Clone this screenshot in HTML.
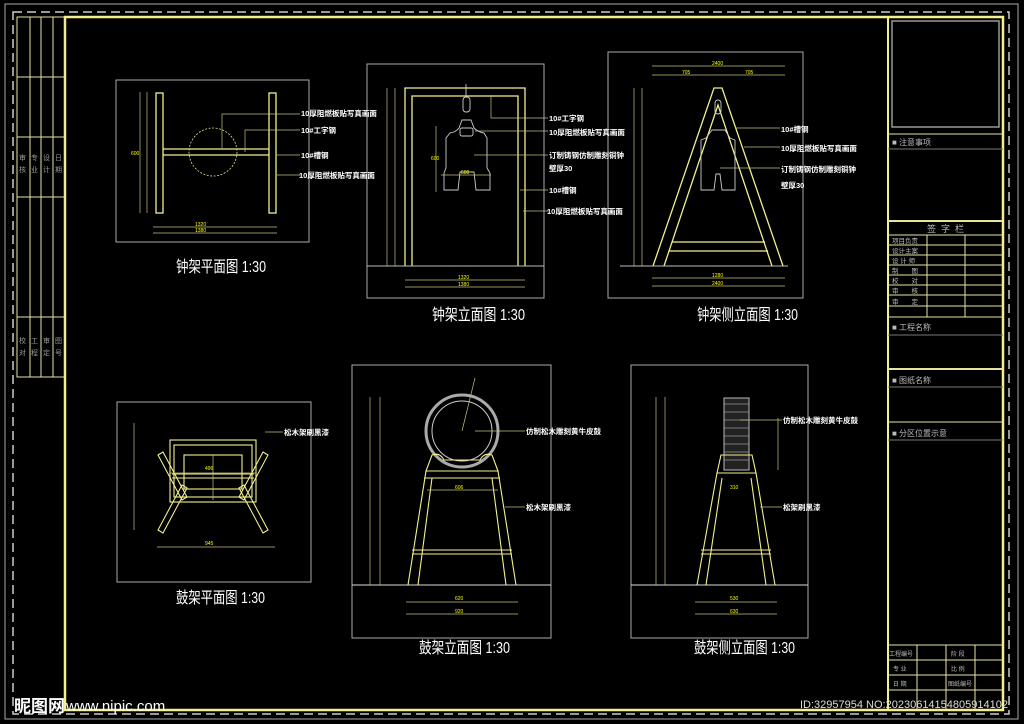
<!DOCTYPE html>
<html><head><meta charset="utf-8"><style>
html,body{margin:0;padding:0;background:#000;}
svg{display:block}
text{font-family:"Liberation Sans","Noto Sans CJK SC",sans-serif;}
</style></head><body>
<svg width="1024" height="724" viewBox="0 0 1024 724" xmlns="http://www.w3.org/2000/svg">
<rect width="1024" height="724" fill="#000"/>
<rect x="5" y="4" width="1013" height="715" fill="none" stroke="#aaa" stroke-width="1"/>
<rect x="13" y="12" width="996" height="702" fill="none" stroke="#ccc" stroke-width="1.5" stroke-dasharray="9,5"/>
<rect x="65" y="17" width="938" height="693" fill="none" stroke="#f4f08c" stroke-width="2.5"/>
<line x1="888" y1="17" x2="888" y2="710" stroke="#f4f08c" stroke-width="2"/>
<g stroke="#e8e4a0" stroke-width="1" fill="none">
<rect x="17" y="17" width="48" height="360"/>
<line x1="30" y1="17" x2="30" y2="377"/><line x1="41" y1="17" x2="41" y2="377"/><line x1="53" y1="17" x2="53" y2="377"/>
<line x1="17" y1="77" x2="65" y2="77"/><line x1="17" y1="137" x2="65" y2="137"/><line x1="17" y1="197" x2="65" y2="197"/><line x1="17" y1="317" x2="65" y2="317"/>
</g>
<g fill="#999" font-size="7">
<text x="19" y="160">审</text><text x="31" y="160">专</text><text x="43" y="160">设</text><text x="55" y="160">日</text>
<text x="19" y="172">核</text><text x="31" y="172">业</text><text x="43" y="172">计</text><text x="55" y="172">期</text>
<text x="19" y="343">校</text><text x="31" y="343">工</text><text x="43" y="343">审</text><text x="55" y="343">图</text>
<text x="19" y="355">对</text><text x="31" y="355">程</text><text x="43" y="355">定</text><text x="55" y="355">号</text>
</g>
<g stroke="#e8e4a0" stroke-width="1" fill="none">
<rect x="892" y="21" width="107" height="106" stroke="#999" stroke-width="1.5"/>
<line x1="888" y1="134" x2="1003" y2="134"/><line x1="888" y1="149" x2="1003" y2="149" stroke="#777"/>
<line x1="888" y1="221" x2="1003" y2="221" stroke-width="2"/>
<line x1="888" y1="235" x2="1003" y2="235"/><line x1="888" y1="245" x2="1003" y2="245"/><line x1="888" y1="255" x2="1003" y2="255"/>
<line x1="888" y1="265" x2="1003" y2="265"/><line x1="888" y1="275" x2="1003" y2="275"/><line x1="888" y1="285" x2="1003" y2="285"/>
<line x1="888" y1="295" x2="1003" y2="295"/><line x1="888" y1="306" x2="1003" y2="306"/><line x1="888" y1="317" x2="1003" y2="317"/>
<line x1="927" y1="235" x2="927" y2="317"/><line x1="965" y1="235" x2="965" y2="317"/>
<line x1="888" y1="335" x2="1003" y2="335" stroke="#777"/>
<line x1="888" y1="369" x2="1003" y2="369" stroke-width="2"/><line x1="888" y1="387" x2="1003" y2="387" stroke="#777"/>
<line x1="888" y1="422" x2="1003" y2="422"/><line x1="888" y1="440" x2="1003" y2="440" stroke="#777"/>
<line x1="888" y1="645" x2="1003" y2="645"/><line x1="888" y1="660" x2="1003" y2="660"/><line x1="888" y1="675" x2="1003" y2="675"/><line x1="888" y1="690" x2="1003" y2="690"/>
<line x1="917" y1="645" x2="917" y2="710"/><line x1="946" y1="645" x2="946" y2="710"/><line x1="975" y1="645" x2="975" y2="710"/>
</g>
<g fill="#bbb" font-size="8">
<text x="892" y="145">■ 注意事项</text>
<text x="927" y="232" font-size="9" letter-spacing="5">签字栏</text>
<text x="892" y="243" font-size="6.5">项目负责</text><text x="892" y="253" font-size="6.5">设计主案</text><text x="892" y="263" font-size="6.5">设 计 师</text>
<text x="892" y="273" font-size="6.5">制　　图</text><text x="892" y="283" font-size="6.5">校　　对</text><text x="892" y="293" font-size="6.5">审　　核</text><text x="892" y="304" font-size="6.5">审　　定</text>
<text x="892" y="330">■ 工程名称</text><text x="892" y="383">■ 图纸名称</text><text x="892" y="436">■ 分区位置示意</text>
<text x="889" y="656" font-size="6">工程编号</text><text x="951" y="656" font-size="6">阶 段</text>
<text x="893" y="671" font-size="6">专 业</text><text x="951" y="671" font-size="6">比 例</text>
<text x="893" y="686" font-size="6">日 期</text><text x="948" y="686" font-size="6">图纸编号</text>
</g>
<g stroke="#aaa" stroke-width="1" fill="none">
<rect x="116" y="80" width="193" height="162"/>
<rect x="367" y="64" width="177" height="234"/>
<rect x="608" y="52" width="195" height="246"/>
<rect x="117" y="402" width="194" height="180"/>
<rect x="352" y="365" width="199" height="273"/>
<rect x="631" y="365" width="177" height="273"/>
</g>
<g stroke="#f4f08c" stroke-width="1.3" fill="none">
<rect x="156" y="93" width="7" height="120"/><rect x="269" y="93" width="7" height="120"/>
<line x1="163" y1="149" x2="269" y2="149"/><line x1="163" y1="155" x2="269" y2="155"/>
</g>
<circle cx="213" cy="152" r="24" fill="none" stroke="#dde090" stroke-dasharray="2,1.5" stroke-width="0.8"/>
<g stroke="#c8c080" stroke-width="0.7" fill="none">
<line x1="140" y1="92" x2="140" y2="213"/><line x1="147" y1="92" x2="147" y2="213"/>
<line x1="153" y1="227" x2="277" y2="227"/><line x1="153" y1="233" x2="277" y2="233"/>
<polyline points="222,148 222,114 300,114"/><polyline points="245,152 245,130 300,130"/>
<line x1="276" y1="155" x2="300" y2="155"/><line x1="277" y1="175" x2="300" y2="175"/>
</g>
<g fill="#ff0" font-size="5"><text x="195" y="226">1320</text><text x="195" y="232">1380</text><text x="131" y="155">600</text></g>
<g fill="#fff" font-size="7.5" font-weight="bold">
<text x="301" y="116">10厚阻燃板贴写真画面</text><text x="301" y="133">10#工字钢</text><text x="301" y="158">10#槽钢</text><text x="299" y="178">10厚阻燃板贴写真画面</text>
</g>
<text x="176" y="272" fill="#fff" font-size="16" textLength="90" lengthAdjust="spacingAndGlyphs">钟架平面图 1:30</text>
<g stroke="#f4f08c" stroke-width="1.3" fill="none">
<polyline points="405,266 405,88 525,88 525,266"/><polyline points="412,266 412,96 518,96 518,266"/>
</g>
<line x1="367" y1="266" x2="544" y2="266" stroke="#bbb"/>
<g stroke="#ccc" stroke-width="0.9" fill="none">
<line x1="466" y1="84" x2="466" y2="97"/><rect x="463" y="97" width="7" height="15" rx="3"/>
<path d="M462,120 L471,120 L474,128 Q478,132 484,133 L487,138 L487,168 L490,173 L490,190 L476,190 L474,172 L460,172 L458,190 L444,190 L444,173 L446,168 L446,138 L450,133 Q456,132 459,128 Z"/>
<rect x="460" y="128" width="13" height="8" rx="2"/>
</g>
<g stroke="#c8c080" stroke-width="0.7" fill="none">
<line x1="387" y1="88" x2="387" y2="266"/><line x1="395" y1="88" x2="395" y2="266"/>
<line x1="405" y1="280" x2="525" y2="280"/><line x1="405" y1="287" x2="525" y2="287"/>
<line x1="436" y1="126" x2="436" y2="192"/><line x1="441" y1="175" x2="491" y2="175"/>
<polyline points="491,95 491,118 548,118"/><line x1="475" y1="131" x2="548" y2="131"/><line x1="474" y1="155" x2="548" y2="155"/>
<line x1="520" y1="190" x2="548" y2="190"/><line x1="523" y1="211" x2="548" y2="211"/>
</g>
<g fill="#ff0" font-size="5"><text x="458" y="279">1320</text><text x="458" y="286">1380</text><text x="431" y="160">600</text><text x="461" y="174">600</text></g>
<g fill="#fff" font-size="7.5" font-weight="bold">
<text x="549" y="121">10#工字钢</text><text x="549" y="135">10厚阻燃板贴写真画面</text><text x="549" y="158">订制铸钢仿制雕刻铜钟</text><text x="549" y="171">壁厚30</text><text x="549" y="193">10#槽钢</text><text x="547" y="214">10厚阻燃板贴写真画面</text>
</g>
<text x="432" y="320" fill="#fff" font-size="16" textLength="93" lengthAdjust="spacingAndGlyphs">钟架立面图 1:30</text>
<g stroke="#f4f08c" stroke-width="1.3" fill="none">
<polyline points="653,266 714,88 722,88 783,266"/><polyline points="664,266 718,105 772,266"/>
<line x1="672" y1="242" x2="765" y2="242"/><line x1="669" y1="251" x2="768" y2="251"/>
</g>
<line x1="620" y1="266" x2="788" y2="266" stroke="#bbb"/>
<g stroke="#ccc" stroke-width="0.9" fill="none">
<rect x="715" y="100" width="6" height="14" rx="3"/>
<path d="M712,130 L725,130 L730,138 L735,140 L735,190 L722,190 L720,174 L716,174 L714,190 L701,190 L701,140 L706,138 Z"/>
</g>
<g stroke="#c8c080" stroke-width="0.7" fill="none">
<line x1="652" y1="75" x2="785" y2="75"/><line x1="652" y1="66" x2="785" y2="66"/>
<line x1="634" y1="88" x2="634" y2="266"/><line x1="642" y1="88" x2="642" y2="266"/>
<line x1="652" y1="278" x2="785" y2="278"/><line x1="652" y1="286" x2="785" y2="286"/>
<line x1="735" y1="128" x2="780" y2="128"/><line x1="744" y1="147" x2="780" y2="147"/><line x1="720" y1="168" x2="780" y2="168"/>
</g>
<g fill="#ff0" font-size="5"><text x="712" y="65">2400</text><text x="682" y="74">705</text><text x="745" y="74">705</text><text x="712" y="285">2400</text><text x="712" y="277">1280</text></g>
<g fill="#fff" font-size="7.5" font-weight="bold">
<text x="781" y="132">10#槽钢</text><text x="781" y="151">10厚阻燃板贴写真画面</text><text x="781" y="172">订制铸钢仿制雕刻铜钟</text><text x="781" y="188">壁厚30</text>
</g>
<text x="697" y="320" fill="#fff" font-size="16" textLength="101" lengthAdjust="spacingAndGlyphs">钟架侧立面图 1:30</text>
<g stroke="#f4f08c" stroke-width="1.1" fill="none">
<rect x="170" y="440" width="86" height="62"/><rect x="174" y="445" width="78" height="52"/>
<rect x="184" y="455" width="58" height="34"/>
<line x1="172" y1="478" x2="254" y2="478"/><line x1="172" y1="474" x2="254" y2="474"/>
<polygon points="158,455 163,452 187,497 182,500"/><polygon points="268,455 263,452 239,497 244,500"/>
<polygon points="158,530 163,533 187,488 182,485"/><polygon points="268,530 263,533 239,488 244,485"/>
</g>
<g stroke="#c8c080" stroke-width="0.7" fill="none">
<line x1="134" y1="423" x2="134" y2="530"/><line x1="157" y1="547" x2="275" y2="547"/><line x1="170" y1="473" x2="256" y2="473"/><line x1="213" y1="455" x2="213" y2="500"/>
<line x1="265" y1="432" x2="283" y2="432"/>
</g>
<g fill="#ff0" font-size="5"><text x="205" y="545">945</text><text x="205" y="470">496</text></g>
<text x="284" y="435" fill="#fff" font-size="7.5" font-weight="bold">松木架刷黑漆</text>
<text x="176" y="603" fill="#fff" font-size="16" textLength="89" lengthAdjust="spacingAndGlyphs">鼓架平面图 1:30</text>
<circle cx="462" cy="431" r="36" fill="none" stroke="#aaa" stroke-width="3"/>
<circle cx="462" cy="431" r="30" fill="none" stroke="#ccc" stroke-width="1"/>
<g stroke="#f4f08c" stroke-width="1.1" fill="none">
<path d="M426,471 L432,455 Q440,452 444,460 L480,460 Q484,452 492,455 L498,471 Z"/>
<line x1="424" y1="478" x2="500" y2="478"/>
<polyline points="426,471 408,585"/><polyline points="432,478 418,585"/>
<polyline points="498,471 516,585"/><polyline points="492,478 506,585"/>
<line x1="412" y1="550" x2="512" y2="550"/><line x1="412" y1="554" x2="512" y2="554"/>
</g>
<line x1="352" y1="585" x2="551" y2="585" stroke="#ddd"/>
<g stroke="#c8c080" stroke-width="0.7" fill="none">
<line x1="370" y1="397" x2="370" y2="585"/><line x1="380" y1="397" x2="380" y2="585"/>
<line x1="406" y1="602" x2="518" y2="602"/><line x1="406" y1="614" x2="518" y2="614"/>
<line x1="427" y1="490" x2="498" y2="490"/><line x1="475" y1="431" x2="525" y2="431"/><line x1="505" y1="507" x2="525" y2="507"/>
<line x1="462" y1="431" x2="475" y2="378"/>
</g>
<g fill="#ff0" font-size="5"><text x="455" y="600">620</text><text x="455" y="613">920</text><text x="455" y="489">606</text></g>
<g fill="#fff" font-size="7.5" font-weight="bold"><text x="526" y="434">仿制松木雕刻黄牛皮鼓</text><text x="526" y="510">松木架刷黑漆</text></g>
<text x="419" y="653" fill="#fff" font-size="16" textLength="91" lengthAdjust="spacingAndGlyphs">鼓架立面图 1:30</text>
<rect x="724" y="398" width="25" height="72" fill="#222" stroke="#bbb"/>
<g stroke="#999" stroke-width="0.8">
<line x1="724" y1="404" x2="749" y2="404"/><line x1="724" y1="412" x2="749" y2="412"/><line x1="724" y1="420" x2="749" y2="420"/><line x1="724" y1="428" x2="749" y2="428"/><line x1="724" y1="436" x2="749" y2="436"/><line x1="724" y1="444" x2="749" y2="444"/><line x1="724" y1="452" x2="749" y2="452"/><line x1="724" y1="460" x2="749" y2="460"/></g>
<g stroke="#f4f08c" stroke-width="1.1" fill="none">
<path d="M717,473 L721,455 L752,455 L756,473 Z"/>
<polyline points="717,473 697,585"/><polyline points="722,478 706,585"/>
<polyline points="756,473 775,585"/><polyline points="751,478 766,585"/>
<line x1="701" y1="550" x2="771" y2="550"/><line x1="701" y1="554" x2="771" y2="554"/>
</g>
<line x1="631" y1="585" x2="808" y2="585" stroke="#ddd"/>
<g stroke="#c8c080" stroke-width="0.7" fill="none">
<line x1="656" y1="397" x2="656" y2="585"/><line x1="665" y1="397" x2="665" y2="585"/>
<line x1="695" y1="602" x2="777" y2="602"/><line x1="695" y1="614" x2="777" y2="614"/>
<line x1="778" y1="418" x2="778" y2="470"/><line x1="740" y1="420" x2="782" y2="420"/><line x1="760" y1="507" x2="782" y2="507"/>
</g>
<g fill="#ff0" font-size="5"><text x="730" y="600">530</text><text x="730" y="613">630</text><text x="730" y="489">310</text></g>
<g fill="#fff" font-size="7.5" font-weight="bold"><text x="783" y="423">仿制松木雕刻黄牛皮鼓</text><text x="783" y="510">松架刷黑漆</text></g>
<text x="694" y="653" fill="#fff" font-size="16" textLength="101" lengthAdjust="spacingAndGlyphs">鼓架侧立面图 1:30</text>
<text x="14" y="712" fill="#fff" font-size="17" font-weight="bold">昵图网</text>
<text x="66" y="711" fill="#fff" font-size="15">www.nipic.com</text>
<text x="800" y="708" fill="#ddd" font-size="11">ID:32957954 NO:20230614154805914102</text>
</svg>
</body></html>
